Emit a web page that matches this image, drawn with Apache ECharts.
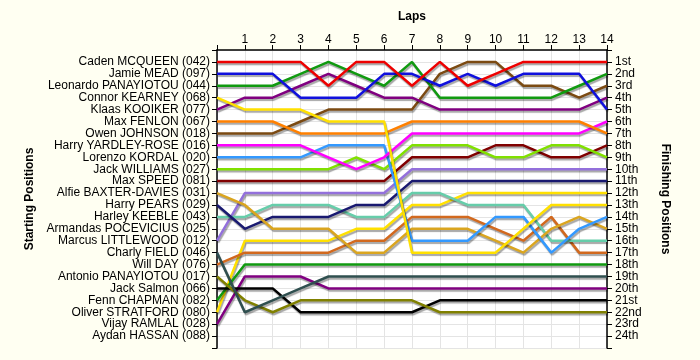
<!DOCTYPE html>
<html>
<head>
<meta charset="utf-8">
<script src="https://cdn.jsdelivr.net/npm/echarts@6/dist/echarts.min.js"></script>
<style>
html,body{margin:0;padding:0;background:#fffff2;}
#chart{width:700px;height:360px;}
</style>
</head>
<body>
<div id="chart"></div>
<script>
// ---- data ----
const laps = [0,1,2,3,4,5,6,7,8,9,10,11,12,13,14];
const startNames = [
  'Caden MCQUEEN (042)','Jamie MEAD (097)','Leonardo PANAYIOTOU (044)','Connor KEARNEY (068)',
  'Klaas KOOIKER (077)','Max FENLON (067)','Owen JOHNSON (018)','Harry YARDLEY-ROSE (016)',
  'Lorenzo KORDAL (020)','Jack WILLIAMS (027)','Max SPEED (081)','Alfie BAXTER-DAVIES (031)',
  'Harry PEARS (029)','Harley KEEBLE (043)','Armandas POCEVICIUS (025)','Marcus LITTLEWOOD (012)',
  'Charly FIELD (046)','Will DAY (076)','Antonio PANAYIOTOU (017)','Jack Salmon (066)',
  'Fenn CHAPMAN (082)','Oliver STRATFORD (080)','Vijay RAMLAL (028)','Aydan HASSAN (088)'
];
const finishLabels = ['1st','2nd','3rd','4th','5th','6th','7th','8th','9th','10th','11th','12th',
  '13th','14th','15th','16th','17th','18th','19th','20th','21st','22nd','23rd','24th'];

// positions per lap (lap 0 = start)
const caden    = [1,1,1,1,3,1,1,3,1,3,2,1,1,1,1];
const jamie    = [2,2,2,4,4,4,2,2,3,2,3,2,2,2,5];
const leonardo = [3,3,3,2,1,2,3,1,4,4,4,4,4,3,2];
const connor   = [4,5,5,5,6,6,6,17,17,17,17,15,13,13,13];
const klaas    = [5,4,4,3,2,3,4,4,5,5,5,5,5,5,4];
const fenlon   = [6,6,6,7,7,7,7,6,6,6,6,6,6,6,7];
const owen     = [7,7,7,6,5,5,5,5,2,1,1,3,3,4,3];
const harryYR  = [8,8,8,8,9,10,9,7,7,7,7,7,7,7,6];
const lorenzo  = [9,9,9,9,8,8,8,16,16,16,14,14,17,15,14];
const jackW    = [10,10,10,10,10,9,10,8,8,8,9,9,8,8,9];
const maxSpeed = [11,11,11,11,11,11,11,9,9,9,8,8,9,9,8];
const alfie    = [12,13,15,15,15,17,17,15,15,15,16,17,15,14,15];
const harryP   = [13,15,14,14,14,13,13,11,11,11,11,11,11,11,11];
const harley   = [14,14,13,13,13,14,14,12,12,13,13,13,16,16,16];
const marcus   = [16,12,12,12,12,12,12,10,10,10,10,10,10,10,10];
const charly   = [17,22,21,20,19,19,19,19,19,19,19,19,19,19,19];
const willDay  = [18,17,17,17,17,16,16,14,14,14,15,16,14,17,17];
const antonio  = [19,21,22,21,21,21,21,21,22,22,22,22,22,22,22];
const jackS    = [20,20,20,22,22,22,22,22,21,21,21,21,21,21,21];
const fenn     = [21,18,18,18,18,18,18,18,18,18,18,18,18,18,18];
const oliver   = [22,16,16,16,16,15,15,13,13,12,12,12,12,12,12];
const vijay    = [23,19,19,19,20,20,20,20,20,20,20,20,20,20,20];

const drivers = [caden,jamie,leonardo,connor,klaas,fenlon,owen,harryYR,lorenzo,jackW,maxSpeed,
  alfie,harryP,harley,marcus,charly,willDay,antonio,jackS,fenn,oliver,vijay];
const driverNames = ['Caden MCQUEEN (042)','Jamie MEAD (097)','Leonardo PANAYIOTOU (044)','Connor KEARNEY (068)',
  'Klaas KOOIKER (077)','Max FENLON (067)','Owen JOHNSON (018)','Harry YARDLEY-ROSE (016)',
  'Lorenzo KORDAL (020)','Jack WILLIAMS (027)','Max SPEED (081)','Alfie BAXTER-DAVIES (031)',
  'Harry PEARS (029)','Harley KEEBLE (043)','Marcus LITTLEWOOD (012)','Charly FIELD (046)',
  'Will DAY (076)','Antonio PANAYIOTOU (017)','Jack Salmon (066)','Fenn CHAPMAN (082)',
  'Oliver STRATFORD (080)','Vijay RAMLAL (028)'];
const colors = ['#ee0000','#1010dd','#109a10','#ffe000','#800080','#ff8000','#7b4a12','#ff00ff',
  '#3399ff','#80e000','#800000','#daa520','#191970','#66cdaa','#9370db','#2f4f4f',
  '#d2691e','#808000','#000000','#109a10','#ffe000','#800080'];

// ---- chart ----
const chart = echarts.init(document.getElementById('chart'), null, {renderer:'canvas'});
const font = 'Arial, "Liberation Sans", sans-serif';
const series = drivers.map((d,i)=>({
  name: driverNames[i],
  type: 'line',
  data: laps.map((l,j)=>[l,d[j]]),
  showSymbol: false,
  symbol: 'none',
  animation: false,
  lineStyle: {
    color: colors[i], width: 2.5,
    shadowColor: 'rgba(0,0,0,0.35)', shadowBlur: 1, shadowOffsetX: 1, shadowOffsetY: 2
  },
  z: 2 + (drivers.length - i)
}));

chart.setOption({
  animation: false,
  backgroundColor: '#fffff2',
  grid: {left: 217, right: 93, top: 50, bottom: 12, show: true, backgroundColor: '#ffffff', borderWidth: 0},
  xAxis: {
    type: 'value', position: 'top', min: 0, max: 14, interval: 1,
    name: 'Laps', nameLocation: 'middle', nameGap: 27,
    nameTextStyle: {fontFamily: font, fontSize: 12, fontWeight: 'bold', color: '#000'},
    axisLine: {show: true, onZero: false, lineStyle: {color: '#000', width: 1.5}},
    axisTick: {show: true, inside: false, length: 5, lineStyle: {color: '#000'}},
    axisLabel: {fontFamily: font, fontSize: 12, color: '#000', margin: 4,
      formatter: v => v === 0 ? '' : String(v)},
    splitLine: {show: true, lineStyle: {color: '#e4e4e4', width: 1}}
  },
  yAxis: [{
    type: 'value', inverse: true, min: 0, max: 25, interval: 1, position: 'left',
    name: 'Starting Positions', nameLocation: 'middle', nameGap: 180,
    nameTextStyle: {fontFamily: font, fontSize: 12, fontWeight: 'bold', color: '#000'},
    axisLine: {show: true, onZero: false, lineStyle: {color: '#000', width: 1.5}},
    axisTick: {show: true, inside: false, length: 5, lineStyle: {color: '#000'}},
    axisLabel: {fontFamily: font, fontSize: 12, color: '#000', margin: 7,
      formatter: v => (v >= 1 && v <= 24) ? startNames[v-1] : ''},
    splitLine: {show: true, lineStyle: {color: '#e4e4e4', width: 1}}
  },{
    type: 'value', inverse: true, min: 0, max: 25, interval: 1, position: 'right',
    name: 'Finishing Positions', nameLocation: 'middle', nameGap: 52, nameRotate: -90,
    nameTextStyle: {fontFamily: font, fontSize: 12, fontWeight: 'bold', color: '#000'},
    axisLine: {show: true, onZero: false, lineStyle: {color: '#000', width: 1.5}},
    axisTick: {show: true, inside: false, length: 5, lineStyle: {color: '#000'}},
    axisLabel: {fontFamily: font, fontSize: 12, color: '#000', margin: 8,
      formatter: v => (v >= 1 && v <= 24) ? finishLabels[v-1] : ''},
    splitLine: {show: false}
  }],
  series: series
});
</script>
</body>
</html>
